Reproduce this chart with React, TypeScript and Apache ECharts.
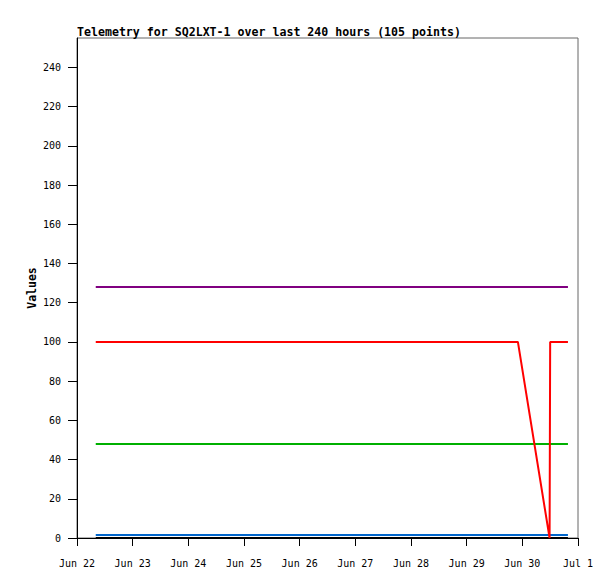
import React, { useEffect, useRef } from "react";
import * as echarts from "echarts";

const TITLE = "Telemetry for SQ2LXT-1 over last 240 hours (105 points)";
const Y_NAME = "Values";
const MONTHS = ["Jan", "Feb", "Mar", "Apr", "May", "Jun", "Jul", "Aug", "Sep", "Oct", "Nov", "Dec"];

const xStartDay = "2024-06-22 00:00";
const xEndDay = "2024-07-01 00:00";
const yTicks = [0, 20, 40, 60, 80, 100, 120, 140, 160, 180, 200, 220, 240];
const yMax = 255;

const startTime = "2024-06-22 08:05";
const endTime = "2024-06-30 19:40";

const blackSeries: [string, number][] = [[startTime, 0], [endTime, 0]];
const blueSeries: [string, number][] = [[startTime, 1.5], [endTime, 1.5]];
const greenSeries: [string, number][] = [[startTime, 48], [endTime, 48]];
const purpleSeries: [string, number][] = [[startTime, 128], [endTime, 128]];
const redSeries: [string, number][] = [
  [startTime, 100],
  ["2024-06-29 22:05", 100],
  ["2024-06-30 11:45", 0],
  ["2024-06-30 12:00", 100],
  [endTime, 100],
];

const DAY = 86400000;

function parseUTC(s: string): number {
  const [date, time] = s.split(" ");
  const [y, m, d] = date.split("-").map(Number);
  const [hh, mm] = (time || "00:00").split(":").map(Number);
  return Date.UTC(y, m - 1, d, hh, mm);
}

const toPts = (arr: [string, number][]) => arr.map(([t, v]) => [parseUTC(t), v]);

export default function App() {
  const ref = useRef<HTMLDivElement>(null);
  useEffect(() => {
    if (!ref.current) return;
    const chart = echarts.init(ref.current, null, { renderer: "svg" });
    const font = "DejaVu Sans Mono";
    const mk = (name: string, data: [string, number][], color: string) => ({
      name,
      type: "line",
      data: toPts(data),
      showSymbol: false,
      symbol: "none",
      lineStyle: { color, width: 2 },
      itemStyle: { color },
    });
    chart.setOption({
      animation: false,
      backgroundColor: "#ffffff",
      title: {
        text: TITLE,
        left: 77,
        top: 26,
        padding: 0,
        textStyle: { fontFamily: font, fontSize: 11.6, fontWeight: "bold", color: "#000" },
      },
      grid: {
        left: 77,
        right: 37,
        top: 38,
        bottom: 41,
        show: true,
        borderColor: "#666666",
        borderWidth: 1,
        backgroundColor: "#ffffff",
      },
      xAxis: {
        type: "value",
        min: parseUTC(xStartDay),
        max: parseUTC(xEndDay),
        interval: DAY,
        axisLine: { show: true, lineStyle: { color: "#000", width: 1 } },
        axisTick: { show: true, length: 8, lineStyle: { color: "#000" } },
        splitLine: { show: false },
        axisLabel: {
          fontFamily: font,
          fontSize: 10,
          color: "#000",
          margin: 20,
          hideOverlap: false,
          formatter: (v: number) => {
            const d = new Date(v);
            return MONTHS[d.getUTCMonth()] + " " + d.getUTCDate();
          },
        },
      },
      yAxis: {
        type: "value",
        min: 0,
        max: yMax,
        interval: 20,
        name: Y_NAME,
        nameLocation: "middle",
        nameGap: 39,
        nameMoveOverlap: false,
        nameTextStyle: { fontFamily: font, fontSize: 11.5, fontWeight: "bold", color: "#000" },
        axisLine: { show: true, lineStyle: { color: "#000", width: 1 } },
        axisTick: { show: true, length: 9, customValues: yTicks, lineStyle: { color: "#000" } },
        splitLine: { show: false },
        axisLabel: {
          customValues: yTicks,
          fontFamily: font,
          fontSize: 10,
          color: "#000",
          margin: 16,
        },
      },
      series: [
        mk("black", blackSeries, "#000000"),
        mk("blue", blueSeries, "#0066cc"),
        mk("green", greenSeries, "#00b000"),
        mk("purple", purpleSeries, "#800080"),
        mk("red", redSeries, "#ff0000"),
      ],
    });
    return () => chart.dispose();
  }, []);
  return (
    <div
      ref={ref}
      style={{ position: "fixed", left: 0, top: 0, width: 615, height: 579, background: "#fff" }}
    />
  );
}
